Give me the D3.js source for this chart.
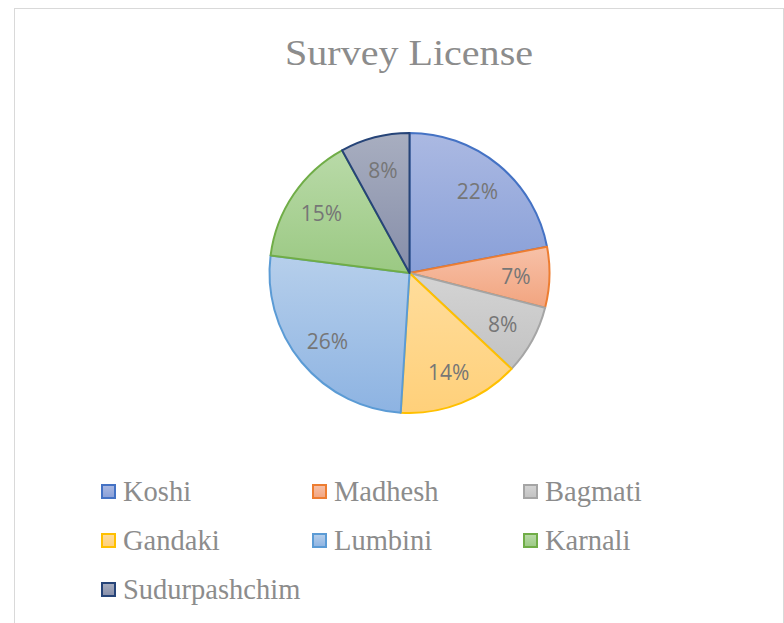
<!DOCTYPE html>
<html>
<head>
<meta charset="utf-8">
<script src="https://cdn.jsdelivr.net/npm/d3@7"></script>
<style>
  html, body { margin: 0; padding: 0; background: #ffffff; }
  svg { display: block; }
</style>
</head>
<body>
<svg id="chart" width="784" height="623"></svg>
<script>
// Survey licenses by province (share of total, %)
const provinces = ["Koshi", "Madhesh", "Bagmati", "Gandaki", "Lumbini", "Karnali", "Sudurpashchim"];
const shares = [22, 7, 8, 14, 26, 15, 8];

// Outline colour and gradient (top, bottom) for each slice
const strokeColors = ["#4472c4", "#ed7d31", "#a5a5a5", "#ffc000", "#5b9bd5", "#70ad47", "#264478"];
const fillTop = ["#abb9e2", "#f7c1a8", "#d4d4d4", "#ffdd9c", "#b6cfeb", "#b9daa8", "#a8aec0"];
const fillBottom = ["#889fd8", "#f2a47f", "#c2c2c2", "#ffd07a", "#8db3e2", "#9bc983", "#868ea9"];

const svg = d3.select("#chart");

// chart frame
svg.append("rect")
  .attr("x", 14.5).attr("y", 8.5)
  .attr("width", 769).attr("height", 640)
  .attr("fill", "#ffffff")
  .attr("stroke", "#d9d9d9").attr("stroke-width", 1);

const defs = svg.append("defs");
provinces.forEach((p, i) => {
  const g = defs.append("linearGradient")
    .attr("id", "grad" + i)
    .attr("x1", 0).attr("y1", 0).attr("x2", 0).attr("y2", 1);
  g.append("stop").attr("offset", "0%").attr("stop-color", fillTop[i]);
  g.append("stop").attr("offset", "100%").attr("stop-color", fillBottom[i]);
});

// title
svg.append("text")
  .attr("x", 409).attr("y", 65)
  .attr("text-anchor", "middle")
  .attr("font-family", "'Liberation Serif', 'Times New Roman', serif")
  .attr("font-size", 35)
  .attr("textLength", 248)
  .attr("lengthAdjust", "spacingAndGlyphs")
  .attr("fill", "#8c8c8c")
  .text("Survey License");

// pie
const cx = 409.5, cy = 273, R = 140;
const data = provinces.map((p, i) => ({ name: p, value: shares[i], idx: i }));
const pie = d3.pie().sort(null).value(d => d.value);
const arcs = pie(data);
const arc = d3.arc().innerRadius(0).outerRadius(R);
const labelArc = d3.arc().innerRadius(R * 0.76).outerRadius(R * 0.76);

const gPie = svg.append("g").attr("transform", `translate(${cx},${cy})`);
gPie.selectAll("path.slice")
  .data(arcs)
  .enter().append("path")
  .attr("class", "slice")
  .attr("d", arc)
  .attr("fill", d => `url(#grad${d.data.idx})`)
  .attr("stroke", d => strokeColors[d.data.idx])
  .attr("stroke-width", 2)
  .attr("stroke-linejoin", "round");

gPie.selectAll("text.lbl")
  .data(arcs)
  .enter().append("text")
  .attr("class", "lbl")
  .attr("transform", d => `translate(${labelArc.centroid(d)})`)
  .attr("text-anchor", "middle")
  .attr("dy", "0.38em")
  .attr("font-family", "'Open Sans', 'Liberation Sans', sans-serif")
  .attr("font-size", 21)
  .attr("fill", "#767676")
  .text(d => d.data.value + "%");

// legend
const colX = [101, 312, 523];
const rowY = [492, 541, 590];
const gLeg = svg.append("g");
data.forEach((d, i) => {
  const x = colX[i % 3], y = rowY[Math.floor(i / 3)];
  gLeg.append("rect")
    .attr("x", x + 1).attr("y", y - 7)
    .attr("width", 13).attr("height", 13)
    .attr("fill", `url(#grad${i})`)
    .attr("stroke", strokeColors[i])
    .attr("stroke-width", 2);
  gLeg.append("text")
    .attr("x", x + 22).attr("y", y + 9)
    .attr("font-family", "'Liberation Serif', 'Times New Roman', serif")
    .attr("font-size", 28.5)
    .attr("fill", "#8c8c8c")
    .text(d.name);
});
</script>
</body>
</html>
